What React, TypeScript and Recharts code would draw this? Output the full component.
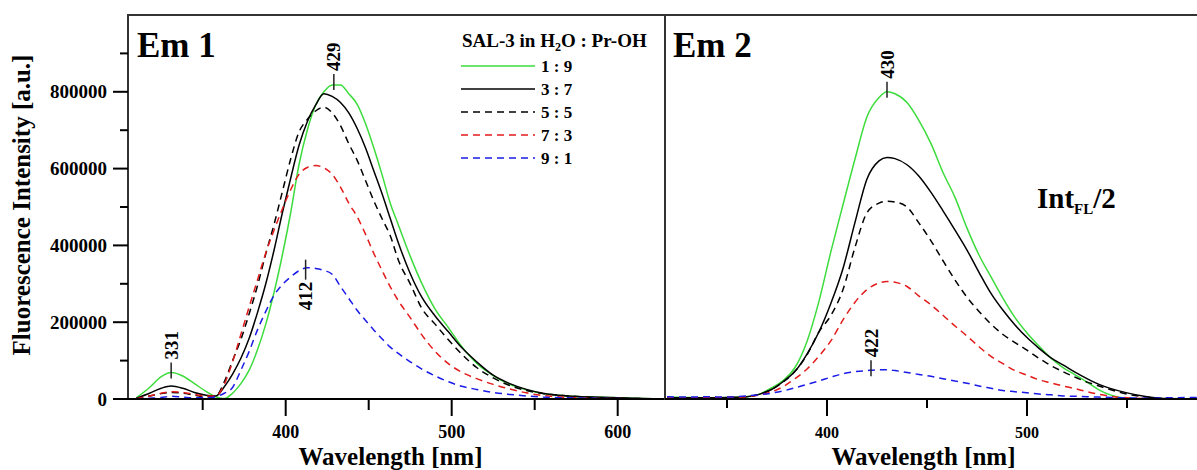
import React from 'react'
import { LineChart, Line, XAxis, YAxis, ReferenceArea, ReferenceDot } from 'recharts'

const FONT = "'Liberation Serif', 'Times New Roman', Times, serif"

// legend / series styling
const seriesNames = ['1 : 9', '3 : 7', '5 : 5', '7 : 3', '9 : 1']
const seriesColors = ['#3ddc3d', '#000000', '#000000', '#e21b1b', '#1b1be8']
const seriesDashes = [undefined, undefined, '7 5', '7 5', '7 5']

// Em 1 spectra (wavelength nm / intensity a.u.)
const em1Nm = [310, 318, 325, 331, 338, 345, 352, 358, 363, 368, 373, 378, 383, 388, 393, 398, 403, 408, 413, 418, 423, 428, 433, 438, 443, 448, 453, 458, 463, 468, 475, 482, 490, 498, 506, 515, 525, 535, 545, 555, 570, 585, 600, 615, 628]
const em1R19 = [3000, 30000, 58000, 69000, 60000, 40000, 20000, 6000, 1000, 15000, 40000, 75000, 128000, 195000, 278000, 375000, 485000, 610000, 700000, 765000, 800000, 818000, 818000, 795000, 768000, 718000, 655000, 585000, 510000, 452000, 372000, 301000, 234000, 186000, 137000, 93000, 61000, 38000, 24000, 14000, 8000, 5000, 3000, 1000, 0]
const em1R37 = [2000, 15000, 28000, 34000, 28000, 17000, 10000, 8000, 32000, 65000, 106000, 158000, 225000, 300000, 388000, 485000, 575000, 660000, 722000, 765000, 795000, 788000, 772000, 745000, 705000, 655000, 595000, 535000, 470000, 405000, 327000, 265000, 216000, 175000, 134000, 97000, 62000, 40000, 25000, 15000, 8000, 5000, 3000, 1000, 0]
const em1R55 = [1000, 8000, 14000, 17000, 15000, 10000, 6000, 8000, 45000, 100000, 155000, 222000, 295000, 378000, 455000, 540000, 625000, 695000, 728000, 750000, 760000, 745000, 712000, 665000, 622000, 570000, 517000, 470000, 425000, 360000, 300000, 236000, 195000, 154000, 117000, 82000, 55000, 35000, 22000, 14000, 8000, 4000, 2000, 1000, 0]
const em1R73 = [1000, 8000, 15000, 19000, 17000, 12000, 8000, 8000, 38000, 97000, 168000, 240000, 310000, 380000, 440000, 495000, 545000, 585000, 603000, 608000, 602000, 585000, 552000, 510000, 475000, 430000, 380000, 335000, 292000, 255000, 212000, 167000, 124000, 92000, 70000, 53000, 38000, 26000, 16000, 9000, 4000, 2000, 1000, 0, 0]
const em1R91 = [0, 2000, 4000, 7000, 5000, 3000, 3000, 6000, 15000, 30000, 75000, 124000, 180000, 228000, 270000, 298000, 318000, 334000, 342000, 340000, 335000, 325000, 293000, 262000, 231000, 205000, 180000, 157000, 135000, 118000, 97000, 78000, 60000, 45000, 33000, 25000, 17000, 12000, 8000, 5000, 3000, 2000, 1000, 0, 0]

// Em 2 spectra (Int_FL / 2)
const em2Nm = [320, 330, 340, 350, 360, 366, 372, 378, 384, 390, 396, 402, 408, 414, 420, 426, 430, 434, 440, 446, 452, 458, 464, 470, 476, 482, 488, 494, 500, 506, 512, 518, 524, 530, 536, 542, 550, 560, 570, 585]
const em2R19 = [5000, 4000, 3000, 4000, 6000, 12000, 28000, 48000, 82000, 150000, 255000, 385000, 506000, 625000, 735000, 785000, 800000, 795000, 772000, 725000, 665000, 590000, 525000, 445000, 375000, 318000, 262000, 212000, 172000, 138000, 106000, 82000, 63000, 44000, 24000, 10000, 2000, 0, 0, 0]
const em2R37 = [4000, 3000, 3000, 4000, 6000, 12000, 24000, 45000, 72000, 117000, 175000, 250000, 340000, 460000, 573000, 620000, 629000, 626000, 610000, 580000, 538000, 490000, 440000, 388000, 330000, 275000, 231000, 193000, 160000, 132000, 107000, 89000, 70000, 53000, 38000, 27000, 16000, 6000, 1000, 0]
const em2R55 = [3000, 3000, 3000, 4000, 6000, 12000, 24000, 44000, 72000, 115000, 175000, 218000, 285000, 395000, 485000, 510000, 515000, 513000, 500000, 458000, 412000, 360000, 310000, 265000, 228000, 195000, 168000, 147000, 127000, 106000, 87000, 71000, 57000, 44000, 34000, 24000, 13000, 5000, 1000, 0]
const em2R73 = [3000, 3000, 3000, 4000, 6000, 10000, 18000, 32000, 53000, 78000, 112000, 152000, 206000, 252000, 285000, 302000, 306000, 304000, 293000, 268000, 245000, 218000, 190000, 164000, 136000, 111000, 92000, 74000, 62000, 50000, 42000, 34000, 27000, 19000, 12000, 7000, 3000, 1000, 0, 0]
const em2R91 = [6000, 5000, 6000, 5000, 8000, 11000, 15000, 21000, 29000, 38000, 47000, 57000, 66000, 71000, 74000, 76000, 76000, 74000, 69000, 64000, 59000, 53000, 47000, 41000, 34000, 28000, 22000, 19000, 16000, 13000, 11000, 8000, 7000, 6000, 5000, 4000, 3000, 2000, 3000, 4000]

const yTicks = [0, 100000, 200000, 300000, 400000, 500000, 600000, 700000, 800000, 900000]
const em1XTicks = [350, 400, 450, 500, 550, 600]
const em2XTicks = [350, 400, 450, 500, 550]

// peak marks: wavelength, intensity at the mark, text, text below the tick?
const em1Peaks = [
  { nm: 429, value: 820000, text: '429', below: false },
  { nm: 331, value: 69000, text: '331', below: false },
  { nm: 412, value: 342000, text: '412', below: true },
]
const em2Peaks = [
  { nm: 430, value: 800000, text: '430', below: false },
  { nm: 422, value: 75000, text: '422', below: false },
]

const buildRows = (nm: number[], cols: number[][]) =>
  nm.map((w, i) => {
    const row: any = { nm: w }
    cols.forEach((c, k) => { row['s' + k] = c[i] })
    return row
  })

const em1Rows = buildRows(em1Nm, [em1R19, em1R37, em1R55, em1R73, em1R91])
const em2Rows = buildRows(em2Nm, [em2R19, em2R37, em2R55, em2R73, em2R91])

const makeXTick = (fontSize: number, minorLen: number) => (props: any) => {
  const { x, y, payload } = props
  const major = payload.value % 100 === 0
  return (
    <g>
      <line x1={x} x2={x} y1={y} y2={y + (major ? 17 : minorLen)} stroke="#000" strokeWidth={2} />
      {major && (
        <text x={x} y={y + 33} textAnchor="middle" dominantBaseline="central"
          fontFamily={FONT} fontWeight="bold" fontSize={fontSize} fill="#000">
          {payload.value}
        </text>
      )}
    </g>
  )
}

const YTick = (props: any) => {
  const { x, y, payload } = props
  const major = payload.value % 200000 === 0
  return (
    <g>
      <line x1={x - (major ? 15 : 8)} x2={x} y1={y} y2={y} stroke="#000" strokeWidth={2} />
      {major && (
        <text x={x - 21} y={y} textAnchor="end" dominantBaseline="central"
          fontFamily={FONT} fontWeight="bold" fontSize={19} fill="#000">
          {payload.value}
        </text>
      )}
    </g>
  )
}

const peakShape = (text: string, below: boolean) => (props: any) => {
  const { cx, cy } = props
  if (cx == null || cy == null) return <g />
  return (
    <g>
      <line x1={cx} x2={cx} y1={below ? cy - 8 : cy - 10} y2={below ? cy + 12 : cy + 6} stroke="#222" strokeWidth={1.5} />
      <text transform={`translate(${cx},${below ? cy + 14 : cy - 13}) rotate(-90)`}
        textAnchor={below ? 'end' : 'start'} dominantBaseline="central"
        fontFamily={FONT} fontWeight="bold" fontSize={19} fill="#000">
        {text}
      </text>
    </g>
  )
}

const xTitle = (shift: number) => (props: any) => {
  const vb = props.viewBox || {}
  return (
    <text x={vb.x + vb.width / 2 + shift} y={vb.y + 66} textAnchor="middle"
      fontFamily={FONT} fontWeight="bold" fontSize={25} fill="#000">
      Wavelength [nm]
    </text>
  )
}

const yTitle = (props: any) => {
  const vb = props.viewBox || {}
  const cx = vb.x - 49
  const cy = vb.y + vb.height / 2 - 2
  return (
    <text transform={`translate(${cx},${cy}) rotate(-90)`} textAnchor="middle" dominantBaseline="central"
      fontFamily={FONT} fontWeight="bold" fontSize={25} fill="#000">
      Fluorescence Intensity [a.u.]
    </text>
  )
}

const renderLines = () =>
  seriesNames.map((name, k) => (
    <Line key={name} name={name} dataKey={'s' + k} type="monotone" stroke={seriesColors[k]}
      strokeWidth={1.5} strokeDasharray={seriesDashes[k]} dot={false} activeDot={false}
      isAnimationActive={false} />
  ))

export default function App() {
  const em1Domain: [number, number] = [305, 628.5]
  const em2Domain: [number, number] = [319, 588.5]

  return (
    <div style={{ position: 'absolute', left: 0, top: 0, width: 1197, height: 470, overflow: 'hidden', background: '#fff' }}>
      <div style={{ position: 'absolute', left: 0, top: 0 }}>
        <LineChart width={666} height={470} data={em1Rows} margin={{ top: 15, right: 1, bottom: 41, left: 70 }}>
          <XAxis dataKey="nm" type="number" domain={em1Domain} ticks={em1XTicks} interval={0} allowDataOverflow
            height={30} tickSize={0} tickMargin={0} tickLine={false}
            axisLine={{ stroke: '#000', strokeWidth: 2 }} tick={makeXTick(18, 11)}
            label={{ content: xTitle(-6) }} />
          <YAxis type="number" domain={[0, 1000000]} ticks={yTicks} interval={0} allowDataOverflow
            width={58} tickSize={0} tickMargin={0} tickLine={false} axisLine={false} tick={YTick}
            label={{ content: yTitle }} />
          <ReferenceArea x1={em1Domain[0]} x2={em1Domain[1]} y1={0} y2={1000000} fill="none" stroke="#333" strokeWidth={2} ifOverflow="visible" />
          {renderLines()}
          {em1Peaks.map(p => (
            <ReferenceDot key={p.text} x={p.nm} y={p.value} r={0} ifOverflow="visible" shape={peakShape(p.text, p.below)} />
          ))}
        </LineChart>
      </div>
      <div style={{ position: 'absolute', left: 664, top: 0 }}>
        <LineChart width={540} height={470} data={em2Rows} margin={{ top: 15, right: 0, bottom: 41, left: 1 }}>
          <XAxis dataKey="nm" type="number" domain={em2Domain} ticks={em2XTicks} interval={0} allowDataOverflow
            height={30} tickSize={0} tickMargin={0} tickLine={false}
            axisLine={{ stroke: '#000', strokeWidth: 2 }} tick={makeXTick(16, 9)}
            label={{ content: xTitle(-11) }} />
          <YAxis type="number" domain={[0, 1000000]} hide allowDataOverflow />
          <ReferenceArea x1={em2Domain[0]} x2={em2Domain[1]} y1={0} y2={1000000} fill="none" stroke="#333" strokeWidth={2} ifOverflow="visible" />
          {renderLines()}
          {em2Peaks.map(p => (
            <ReferenceDot key={p.text} x={p.nm} y={p.value} r={0} ifOverflow="visible" shape={peakShape(p.text, p.below)} />
          ))}
        </LineChart>
      </div>
      <svg width={1197} height={470} style={{ position: 'absolute', left: 0, top: 0, pointerEvents: 'none' }}>
        <text x={137} y={57} fontFamily={FONT} fontWeight="bold" fontSize={35} fill="#000">Em 1</text>
        <text x={673} y={57} fontFamily={FONT} fontWeight="bold" fontSize={35} fill="#000">Em 2</text>
        <text x={1037} y={208} fontFamily={FONT} fontWeight="bold" fontSize={29} fill="#000">
          Int<tspan fontSize={15} dy={6}>FL</tspan><tspan dy={-6}>/2</tspan>
        </text>
        <text x={462} y={47} fontFamily={FONT} fontWeight="bold" fontSize={19} fill="#000">
          SAL-3 in H<tspan fontSize={12} dy={4}>2</tspan><tspan dy={-4}>O : Pr-OH</tspan>
        </text>
        {seriesNames.map((name, k) => (
          <g key={name}>
            <line x1={461} x2={535} y1={66 + k * 23} y2={66 + k * 23} stroke={seriesColors[k]}
              strokeWidth={1.5} strokeDasharray={seriesDashes[k]} />
            <text x={541} y={66 + k * 23} dominantBaseline="central" fontFamily={FONT} fontWeight="bold" fontSize={17} fill="#000">
              {name}
            </text>
          </g>
        ))}
      </svg>
    </div>
  )
}
